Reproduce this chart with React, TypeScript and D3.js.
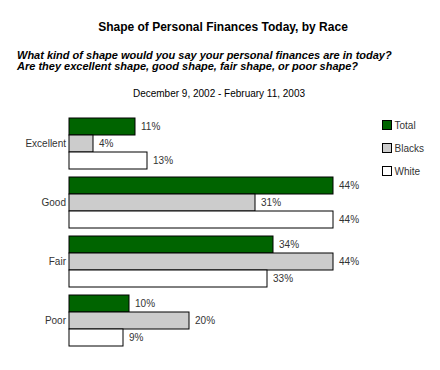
import React from 'react';
import * as d3 from 'd3';

const categories = ['Excellent', 'Good', 'Fair', 'Poor'];
const seriesNames = ['Total', 'Blacks', 'White'];
const totalValues = [11, 44, 34, 10];
const blacksValues = [4, 31, 44, 20];
const whiteValues = [13, 44, 33, 9];
const seriesColors = ['#006400', '#cccccc', '#ffffff'];

const title = 'Shape of Personal Finances Today, by Race';
const questionLines = [
  'What kind of shape would you say your personal finances are in today?',
  'Are they excellent shape, good shape, fair shape, or poor shape?',
];
const dateLine = 'December 9, 2002 - February 11, 2003';

const width = 440;
const height = 370;
const font = 'Arial, "Liberation Sans", Helvetica, sans-serif';

const App: React.FC = () => {
  const series = [totalValues, blacksValues, whiteValues];

  const plotLeft = 69;
  const x = d3.scaleLinear().domain([0, 44]).range([plotLeft, plotLeft + 264]);

  // outer bands hold a group of three bars each
  const y = d3.scaleBand<string>()
    .domain(categories)
    .range([118, 346])
    .paddingInner(8 / 59)
    .paddingOuter(0);
  const inner = d3.scaleBand<string>()
    .domain(seriesNames)
    .range([0, y.bandwidth()]);

  return (
    <svg width={width} height={height} style={{ display: 'block', position: 'absolute', left: 0, top: 0 }}
      fontFamily={font}>
      <rect x={0} y={0} width={width} height={height} fill="#fff" />
      <text x={223} y={31} textAnchor="middle" fontSize={12} fontWeight="bold" fill="#000">{title}</text>
      {questionLines.map((line, i) => (
        <text key={i} x={17} y={58.5 + i * 11.5} fontSize={11} fontWeight="bold" fontStyle="italic" fill="#000">{line}</text>
      ))}
      <text x={219} y={97} textAnchor="middle" fontSize={10} fill="#000">{dateLine}</text>

      {categories.map((cat, ci) => {
        const gy = y(cat) as number;
        return (
          <g key={cat}>
            <text x={66} y={gy + y.bandwidth() / 2 + 3.5} textAnchor="end" fontSize={10} fill="#333">{cat}</text>
            {seriesNames.map((s, si) => {
              const v = series[si][ci];
              const by = gy + (inner(s) as number);
              return (
                <g key={s}>
                  <rect x={x(0)} y={by} width={x(v) - x(0)} height={inner.bandwidth()}
                    fill={seriesColors[si]} stroke="#000" strokeWidth={1} />
                  <text x={x(v) + 6} y={by + inner.bandwidth() / 2 + 3.5} fontSize={10} fill="#333">{v}%</text>
                </g>
              );
            })}
          </g>
        );
      })}

      {seriesNames.map((s, i) => (
        <g key={s} transform={`translate(382.5, ${120.5 + i * 23})`}>
          <rect x={0} y={0} width={9} height={9} fill={seriesColors[i]} stroke="#000" strokeWidth={1} />
          <text x={12} y={8.5} fontSize={10} fill="#333">{s}</text>
        </g>
      ))}
    </svg>
  );
};

export default App;
